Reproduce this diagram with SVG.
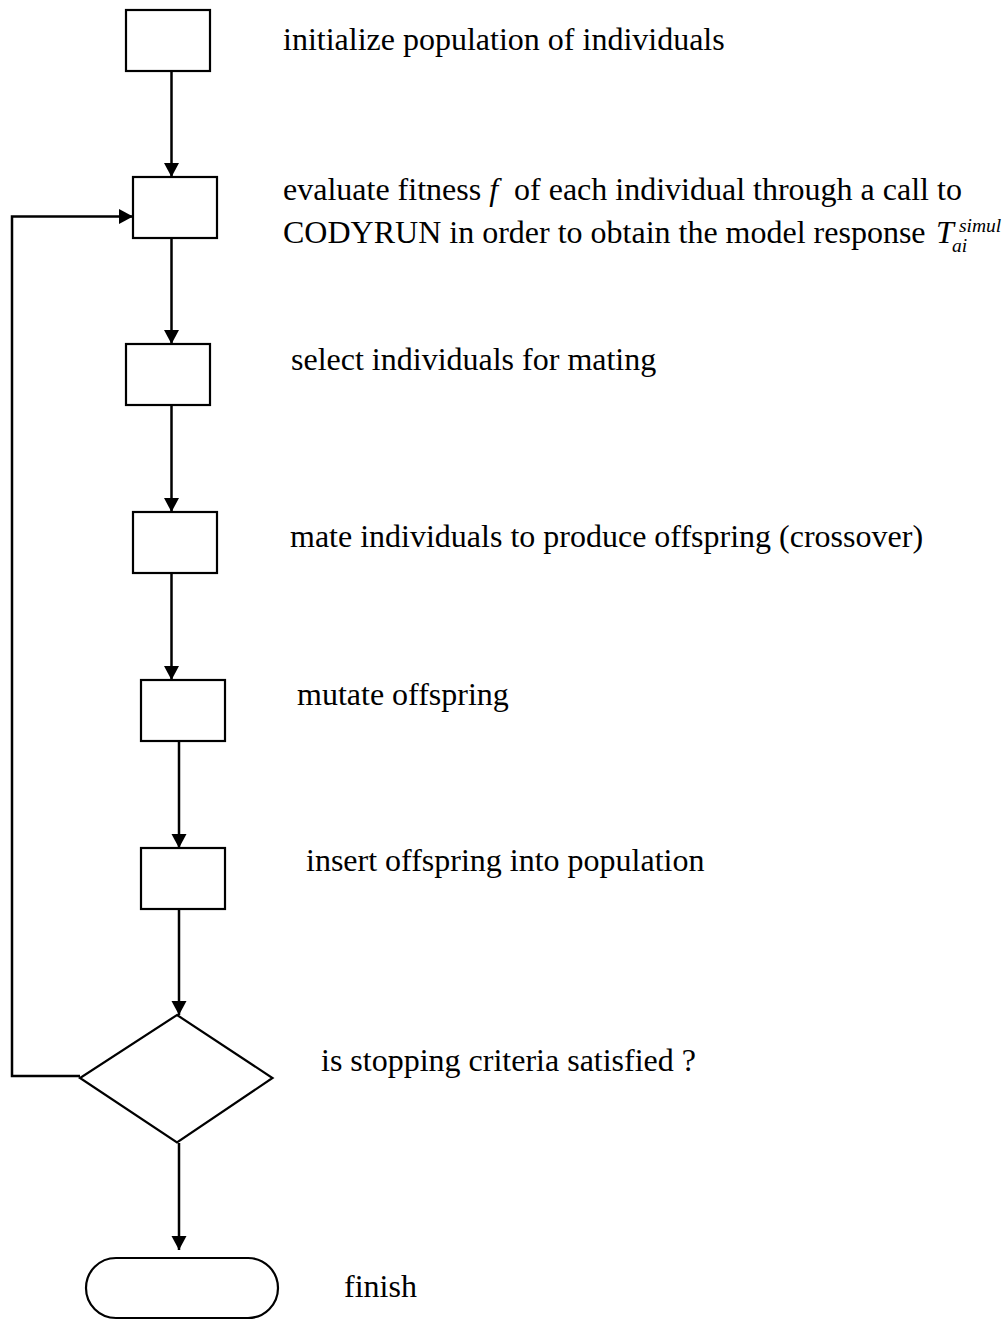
<svg xmlns="http://www.w3.org/2000/svg" width="1005" height="1322" viewBox="0 0 1005 1322">
<style>
.n{fill:#fff;stroke:#000;stroke-width:2.2}
.c{fill:none;stroke:#000;stroke-width:2.5}
.t{font-family:"Liberation Serif","Times New Roman",serif;font-size:32px;fill:#000}
.i{font-style:italic}
.s{font-style:italic;font-size:19.5px}
</style>
<defs>
<marker id="ah" markerUnits="userSpaceOnUse" markerWidth="16" markerHeight="16" refX="14" refY="7.5" orient="auto">
<path d="M0,0 L14,7.5 L0,15 z" fill="#000"/>
</marker>
</defs>
<rect width="1005" height="1322" fill="#fff"/>
<g id="connectors">
<line class="c" x1="171.5" y1="71" x2="171.5" y2="177" marker-end="url(#ah)"/>
<line class="c" x1="171.5" y1="238" x2="171.5" y2="344" marker-end="url(#ah)"/>
<line class="c" x1="171.5" y1="405" x2="171.5" y2="512" marker-end="url(#ah)"/>
<line class="c" x1="171.5" y1="573" x2="171.5" y2="680" marker-end="url(#ah)"/>
<line class="c" x1="179" y1="741" x2="179" y2="848" marker-end="url(#ah)"/>
<line class="c" x1="179" y1="909" x2="179" y2="1015" marker-end="url(#ah)"/>
<line class="c" x1="179" y1="1143" x2="179" y2="1250" marker-end="url(#ah)"/>
<polyline class="c" points="80,1076 12,1076 12,216.5 133,216.5" marker-end="url(#ah)"/>
</g>
<g id="n1"><rect class="n" x="126" y="10" width="84" height="61"/><text class="t" x="283" y="50">initialize population of individuals</text></g>
<g id="n2"><rect class="n" x="133" y="177" width="84" height="61"/>
<text class="t" x="283" y="200">evaluate fitness <tspan class="i">f</tspan>&#160; of each individual through a call to</text>
<text class="t" x="283" y="243">CODYRUN in order to obtain the model response <tspan class="i" x="936">T</tspan><tspan class="s" x="959" y="232">simul</tspan><tspan class="s" x="952" y="252">ai</tspan></text>
</g>
<g id="n3"><rect class="n" x="126" y="344" width="84" height="61"/><text class="t" x="291" y="370">select individuals for mating</text></g>
<g id="n4"><rect class="n" x="133" y="512" width="84" height="61"/><text class="t" x="290" y="547">mate individuals to produce offspring (crossover)</text></g>
<g id="n5"><rect class="n" x="141" y="680" width="84" height="61"/><text class="t" x="297" y="705">mutate offspring</text></g>
<g id="n6"><rect class="n" x="141" y="848" width="84" height="61"/><text class="t" x="306" y="871">insert offspring into population</text></g>
<g id="n7"><polygon class="n" points="177,1015 272.5,1078 177,1142.5 80,1078"/><text class="t" x="321" y="1071">is stopping criteria satisfied ?</text></g>
<g id="n8"><rect class="n" x="86" y="1258" width="192" height="60" rx="30"/><text class="t" x="344" y="1297">finish</text></g>
</svg>
